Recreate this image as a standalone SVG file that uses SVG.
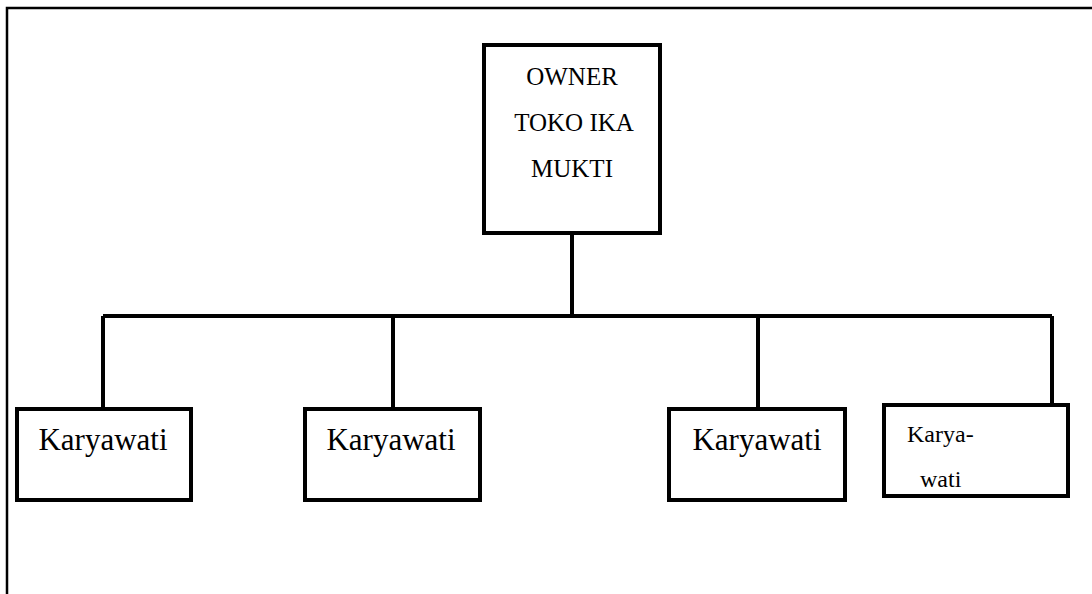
<svg xmlns="http://www.w3.org/2000/svg" width="1092" height="594" viewBox="0 0 1092 594">
<style>
.box{fill:#fff;stroke:#000;stroke-width:4}
.ln{stroke:#000;stroke-width:4;fill:none}
.frame{stroke:#000;stroke-width:2.5;fill:none}
.t{font-family:'Liberation Serif',Tinos,'DejaVu Serif',serif;fill:#000}
.big{font-size:31px}
.own{font-size:25px}
.sm{font-size:24px}
</style>
<rect width="1092" height="594" fill="#fff"/>
<path class="frame" d="M7,594 V8 H1092"/>
<g id="connectors">
<path class="ln" d="M572,233 V316"/>
<path class="ln" d="M103,316 H1052"/>
<path class="ln" d="M103,316 V409"/>
<path class="ln" d="M393,316 V409"/>
<path class="ln" d="M758,316 V409"/>
<path class="ln" d="M1052,316 V405"/>
</g>
<g id="owner">
<rect class="box" x="484" y="45" width="176" height="188"/>
<text class="t own" x="572" y="85" text-anchor="middle" font-family="Liberation Serif, serif">OWNER</text>
<text class="t own" x="574" y="131" text-anchor="middle" font-family="Liberation Serif, serif">TOKO IKA</text>
<text class="t own" x="572" y="177" text-anchor="middle" font-family="Liberation Serif, serif">MUKTI</text>
</g>
<g id="karyawati1">
<rect class="box" x="17" y="409" width="174" height="91"/>
<text class="t big" x="103" y="450" text-anchor="middle" font-family="Liberation Serif, serif">Karyawati</text>
</g>
<g id="karyawati2">
<rect class="box" x="305" y="409" width="175" height="91"/>
<text class="t big" x="391" y="450" text-anchor="middle" font-family="Liberation Serif, serif">Karyawati</text>
</g>
<g id="karyawati3">
<rect class="box" x="669" y="409" width="176" height="91"/>
<text class="t big" x="757" y="450" text-anchor="middle" font-family="Liberation Serif, serif">Karyawati</text>
</g>
<g id="karyawati4">
<rect class="box" x="884" y="405" width="184" height="91"/>
<text class="t sm" x="907" y="442" font-family="Liberation Serif, serif">Karya-</text>
<text class="t sm" x="920" y="487" font-family="Liberation Serif, serif">wati</text>
</g>
</svg>
